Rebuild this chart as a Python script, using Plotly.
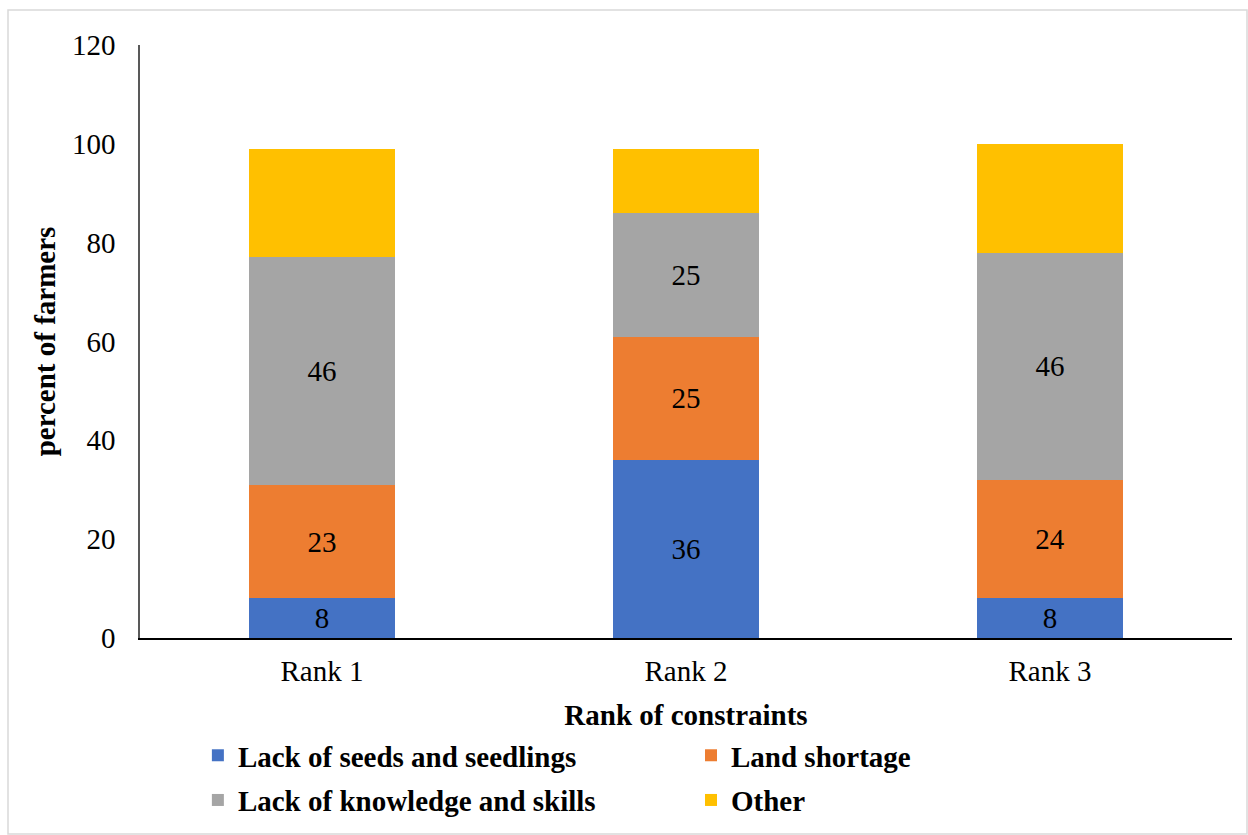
import plotly.graph_objects as go

# Constraint ranks and the share of farmers naming each constraint (%)
ranks = ["Rank 1", "Rank 2", "Rank 3"]
seeds = [8, 36, 8]
land = [23, 25, 24]
knowledge = [46, 25, 46]
other = [22, 13, 22]

# (name, values, colour, show value labels, legend column)
series = [
    ("Lack of seeds and seedlings", seeds, "#4472C4", True, "legend"),
    ("Land shortage", land, "#ED7D31", True, "legend2"),
    ("Lack of knowledge and skills", knowledge, "#A5A5A5", True, "legend"),
    ("Other", other, "#FFC000", False, "legend2"),
]

FONT = "Liberation Serif"
SIZE = 29

fig = go.Figure()
for name, vals, color, labelled, leg in series:
    fig.add_trace(go.Bar(
        x=ranks, y=vals, name=name, legend=leg, legendgroup=name,
        marker=dict(color=color, line=dict(width=0)),
        text=[str(v) for v in vals] if labelled else None,
        textposition="inside" if labelled else "none",
        insidetextanchor="middle",
        textfont=dict(family=FONT, size=SIZE, color="black"),
        hoverinfo="x+y+name",
    ))

legend_common = dict(
    orientation="v", xanchor="left", y=-0.155, yanchor="top",
    traceorder="grouped", tracegroupgap=4, bgcolor="rgba(0,0,0,0)",
    font=dict(family=FONT, size=SIZE, color="black", weight="bold"),
)

fig.update_layout(
    barmode="stack",
    bargap=0.6,
    width=1248, height=835,
    margin=dict(l=140, r=16, t=45, b=197, autoexpand=False),
    paper_bgcolor="white", plot_bgcolor="white",
    font=dict(family=FONT, size=SIZE, color="black"),
    uniformtext=dict(minsize=10, mode="show"),
    showlegend=True,
    legend=dict(x=0.053, **legend_common),
    legend2=dict(x=0.5046, **legend_common),
    xaxis=dict(
        showline=True, linecolor="black", linewidth=2, ticks="",
        tickfont=dict(family=FONT, size=SIZE), ticklabelstandoff=6,
        title=dict(text="<b>Rank of constraints</b>", font=dict(family=FONT, size=SIZE), standoff=19),
    ),
    yaxis=dict(
        range=[0, 120], dtick=20, showgrid=False, zeroline=False,
        showline=True, linecolor="#595959", linewidth=1.5, ticks="",
        tickfont=dict(family=FONT, size=SIZE), ticklabelstandoff=17,
        title=dict(text="<b>percent of farmers</b>", font=dict(family=FONT, size=SIZE), standoff=8),
    ),
    shapes=[dict(
        type="rect", xref="paper", yref="paper",
        x0=(8 - 140) / 1092, x1=(1247 - 140) / 1092,
        y0=-196 / 593, y1=1 + (45 - 10) / 593,
        line=dict(color="#D9D9D9", width=1.5), fillcolor="rgba(0,0,0,0)",
        layer="below",
    )],
)

fig.write_html("out.html")
